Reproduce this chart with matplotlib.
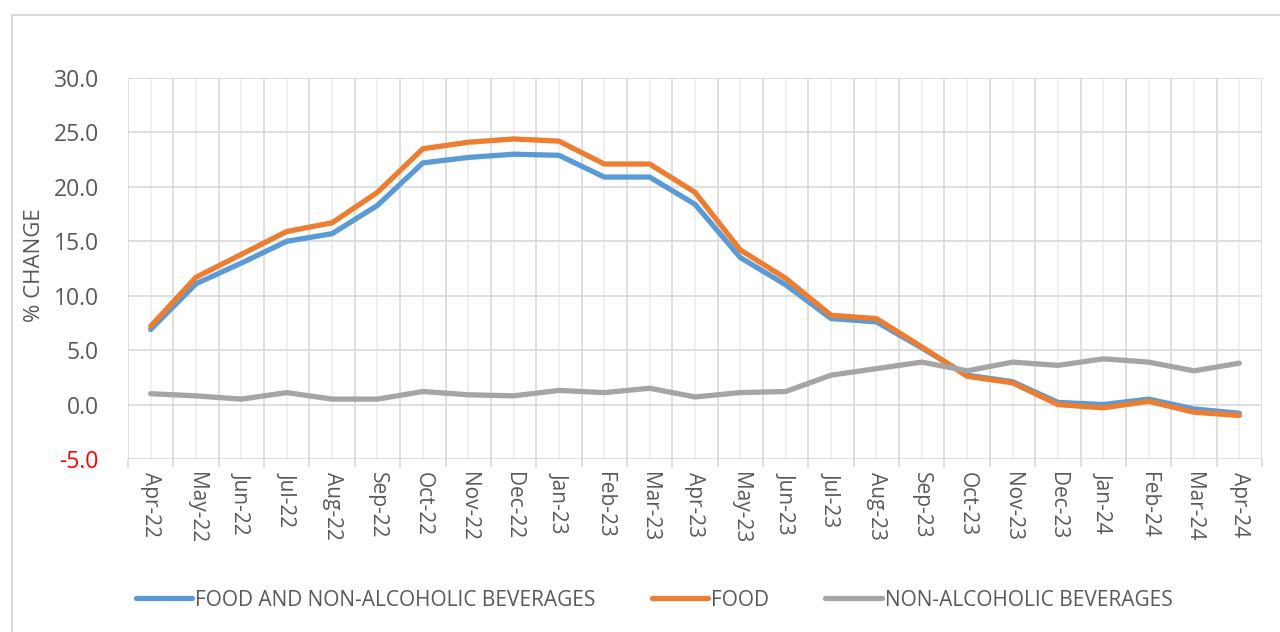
import matplotlib
matplotlib.use("Agg")
import matplotlib.pyplot as plt
from matplotlib.lines import Line2D
from matplotlib.ticker import FixedLocator, FormatStrFormatter

plt.rcParams['font.family'] = ['Open Sans', 'DejaVu Sans']

months = ["Apr-22", "May-22", "Jun-22", "Jul-22", "Aug-22", "Sep-22", "Oct-22",
          "Nov-22", "Dec-22", "Jan-23", "Feb-23", "Mar-23", "Apr-23", "May-23",
          "Jun-23", "Jul-23", "Aug-23", "Sep-23", "Oct-23", "Nov-23", "Dec-23",
          "Jan-24", "Feb-24", "Mar-24", "Apr-24"]

# % change
food_nonalc = [6.9, 11.1, 13.0, 15.0, 15.7, 18.3, 22.2, 22.7, 23.0, 22.9, 20.9, 20.9,
               18.4, 13.5, 11.0, 7.9, 7.6, 5.2, 2.7, 2.1, 0.2, 0.0, 0.5, -0.4, -0.8]
food = [7.2, 11.7, 13.8, 15.9, 16.7, 19.5, 23.5, 24.1, 24.4, 24.2, 22.1, 22.1,
        19.5, 14.2, 11.6, 8.2, 7.9, 5.3, 2.6, 2.0, 0.0, -0.3, 0.3, -0.7, -1.0]
nonalc_bev = [1.0, 0.8, 0.5, 1.1, 0.5, 0.5, 1.2, 0.9, 0.8, 1.3, 1.1, 1.5,
              0.7, 1.1, 1.2, 2.7, 3.3, 3.9, 3.1, 3.9, 3.6, 4.2, 3.9, 3.1, 3.8]

series_names = ["FOOD AND NON-ALCOHOLIC BEVERAGES", "FOOD", "NON-ALCOHOLIC BEVERAGES"]
colors = ["#5B9BD5", "#ED7D31", "#A5A5A5"]
text_col = "#595959"
grid_col = "#D9D9D9"

fig = plt.figure(figsize=(12.8, 6.32), dpi=100)
ax = fig.add_axes([128 / 1280, 1 - 459 / 632, (1262 - 128) / 1280, (459 - 78) / 632])

x = list(range(len(months)))
for vals, name, c in zip([food_nonalc, food, nonalc_bev], series_names, colors):
    ax.plot(x, vals, color=c, lw=3.8, label=name, solid_capstyle='round',
            solid_joinstyle='round')

ax.set_xlim(-0.5, len(months) - 0.5)
ax.set_ylim(-5, 30)

# category centres: labels; boundaries: ticks + darker grid
ax.xaxis.set_major_locator(FixedLocator(x))
ax.set_xticklabels(months, rotation=-90, fontsize=15, color=text_col)
ax.xaxis.set_minor_locator(FixedLocator([i - 0.5 for i in range(len(months) + 1)]))
ax.tick_params(axis='x', which='major', length=0, pad=9)
ax.tick_params(axis='x', which='minor', length=6, color=grid_col, width=1.2)
ax.grid(True, axis='x', which='major', color="#EDEDED", lw=1.2)
ax.grid(True, axis='x', which='minor', color=grid_col, lw=1.2)

ax.set_yticks(range(-5, 31, 5))
ax.yaxis.set_major_formatter(FormatStrFormatter('%.1f'))
ax.tick_params(axis='y', length=0, pad=21, labelsize=16.5, labelcolor=text_col)
for lab in ax.get_yticklabels():
    if lab.get_text().startswith('-'):
        lab.set_color('#FF0000')
ax.grid(True, axis='y', color=grid_col, lw=1.2)
ax.set_axisbelow(True)

for s in ax.spines.values():
    s.set_visible(False)

fig.text(35 / 1280, 1 - 265 / 632, "% CHANGE", rotation=90, ha='center', va='center',
         fontsize=16, color=text_col)

leg = fig.legend(loc='center', bbox_to_anchor=(0.511, 1 - 600 / 632), ncol=3,
                 frameon=False, fontsize=15, handlelength=2.7, handletextpad=0.15,
                 columnspacing=2.7)
for t in leg.get_texts():
    t.set_color(text_col)
for h in leg.get_lines():
    h.set_linewidth(3.8)

# outer chart border
fig.add_artist(Line2D([11.5 / 1280, 11.5 / 1280], [0, 1 - 14.5 / 632],
                      transform=fig.transFigure, color=grid_col, lw=1.5))
fig.add_artist(Line2D([11.5 / 1280, 1], [1 - 14.5 / 632, 1 - 14.5 / 632],
                      transform=fig.transFigure, color=grid_col, lw=1.5))

fig.savefig("out.png", dpi=100)
